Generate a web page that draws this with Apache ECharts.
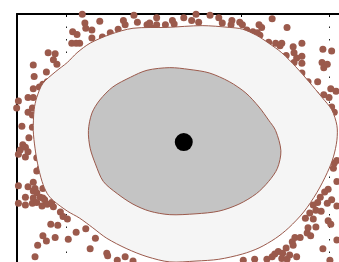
<!DOCTYPE html>
<html>
<head>
<meta charset="utf-8">
<style>
  html, body { margin: 0; padding: 0; background: #fff; }
  #chart { width: 339px; height: 262px; }
</style>
<script src="https://cdn.jsdelivr.net/npm/echarts@6.0.0/dist/echarts.min.js"></script>
</head>
<body>
<div id="chart"></div>
<script>
// sample points (x, y)
var points = [
  // top
  [-0.82, 1.46], [-0.79, 1.36], [-0.78, 1.30], [-0.71, 1.28], [-0.62, 1.38], [-0.93, 1.26],
  [-0.88, 1.23], [-0.94, 1.13], [-0.89, 1.13], [-0.85, 1.13], [-0.71, 1.19], [-0.59, 1.20],
  [-0.50, 1.25], [-0.41, 1.29], [-0.35, 1.39], [-0.33, 1.34], [-0.23, 1.45], [-0.19, 1.37],
  [-0.08, 1.34], [-0.02, 1.30], [0.03, 1.42], [0.03, 1.34], [-0.05, 1.36], [0.13, 1.34],
  [0.21, 1.39], [0.23, 1.35], [0.34, 1.42], [0.43, 1.39], [0.48, 1.46], [0.51, 1.37],
  [0.64, 1.45], [0.74, 1.42], [0.78, 1.36], [0.89, 1.39], [0.88, 1.34], [0.98, 1.37],
  [1.01, 1.34], [1.06, 1.28], [1.13, 1.26], [1.20, 1.34], [1.23, 1.31], [1.35, 1.41],
  [1.18, 1.25], [1.21, 1.22], [1.31, 1.14], [1.39, 1.13], [1.46, 1.13], [1.44, 1.10],
  [1.52, 1.31], [1.59, 1.09], [1.69, 1.13], [1.60, 1.02], [1.51, 0.99], [1.63, 0.96],
  [1.60, 0.91], [1.69, 0.90], [1.69, 0.98], [1.69, 0.79], [1.76, 0.69], [1.87, 0.69],
  [1.93, 1.06], [2.03, 1.04], [1.92, 0.91], [1.98, 0.89], [1.94, 0.85],
  // left
  [-1.21, 1.02], [-1.13, 1.01], [-1.15, 0.94], [-1.11, 0.89], [-1.38, 0.88], [-1.37, 0.75],
  [-1.23, 0.80], [-1.27, 0.66], [-1.31, 0.63], [-1.22, 0.69], [-1.38, 0.61], [-1.44, 0.51],
  [-1.38, 0.51], [-1.55, 0.47], [-1.57, 0.39], [-1.44, 0.34], [-1.39, 0.39], [-1.39, 0.31],
  [-1.51, 0.18], [-1.39, 0.17], [-1.43, 0.05], [-1.50, -0.03], [-1.53, -0.09], [-1.47, -0.06],
  [-1.55, -0.14], [-1.44, -0.11], [-1.47, -0.17], [-1.34, -0.18], [-1.34, -0.33], [-1.30, -0.30],
  [-1.55, -0.50], [-1.44, -0.51], [-1.36, -0.53], [-1.38, -0.46], [-1.38, -0.56], [-1.27, -0.53],
  [-1.47, -0.63], [-1.38, -0.64], [-1.34, -0.58], [-1.30, -0.63], [-1.55, -0.70], [-1.47, -0.72],
  [-1.39, -0.70], [-1.34, -0.69], [-1.28, -0.73], [-1.25, -0.66], [-1.22, -0.71], [-1.17, -0.69],
  [-1.15, -0.74], [-1.27, -0.64], [-1.07, -0.80], [-1.04, -0.85], [-0.99, -0.88], [-1.18, -0.94],
  [-1.10, -0.95],
  // bottom
  [-0.89, -1.03], [-0.78, -0.99], [-0.67, -1.10], [-1.27, -1.07], [-1.23, -1.13], [-1.33, -1.18],
  [-1.13, -1.09], [-0.98, -1.11], [-0.73, -1.22], [-0.54, -1.27], [-0.53, -1.30], [-0.42, -1.35],
  [-0.33, -1.31], [-0.24, -1.36], [-1.36, -1.31], [1.02, -1.35], [1.15, -1.34], [1.29, -1.34],
  [1.35, -1.31], [1.38, -1.28], [1.42, -1.25], [1.47, -1.27], [1.46, -1.33], [1.52, -1.34],
  [1.51, -1.21], [1.55, -1.29], [1.58, -1.14], [1.59, -1.18], [1.63, -1.31], [1.61, -1.09],
  [1.67, -1.09], [1.75, -1.04], [1.79, -1.07], [1.93, -1.22], [2.09, -1.12], [2.01, -1.35],
  // right
  [2.02, 0.61], [2.08, 0.58], [1.94, 0.54], [1.85, 0.54], [2.00, 0.51], [2.03, 0.40],
  [2.06, 0.34], [2.06, -0.24], [2.09, -0.21], [2.05, -0.30], [2.09, -0.45], [1.99, -0.54],
  [1.95, -0.57], [1.90, -0.63], [2.03, -0.66], [1.98, -0.70], [1.87, -0.69], [1.82, -0.72],
  [1.91, -0.79], [1.85, -0.78], [2.09, -0.73], [1.78, -0.81], [1.73, -0.87], [1.82, -0.88],
  [1.99, -0.90], [2.02, -0.94], [1.85, -0.97], [1.76, -0.98]
];

// outer contour
var outerContour = [
  [-0.24, 1.30], [0.15, 1.31], [0.55, 1.33], [0.86, 1.31], [1.01, 1.29], [1.17, 1.22],
  [1.31, 1.13], [1.46, 1.02], [1.62, 0.86], [1.77, 0.69], [1.92, 0.51], [2.03, 0.37],
  [2.09, 0.19], [2.09, 0.02], [2.05, -0.17], [1.98, -0.35], [1.86, -0.58], [1.71, -0.80],
  [1.54, -0.98], [1.39, -1.10], [1.20, -1.21], [1.01, -1.28], [0.74, -1.34], [0.48, -1.36],
  [0.18, -1.37], [-0.08, -1.31], [-0.31, -1.22], [-0.54, -1.10], [-0.70, -0.98], [-0.85, -0.87],
  [-0.99, -0.79], [-1.15, -0.67], [-1.22, -0.59], [-1.28, -0.45], [-1.33, -0.25], [-1.36, -0.07],
  [-1.38, 0.13], [-1.37, 0.37], [-1.34, 0.51], [-1.27, 0.67], [-1.13, 0.80], [-0.99, 0.91],
  [-0.88, 1.02], [-0.73, 1.13], [-0.50, 1.23]
];

// inner contour
var innerContour = [
  [0.18, 0.85], [0.40, 0.83], [0.63, 0.79], [0.86, 0.69], [1.05, 0.56], [1.20, 0.40],
  [1.31, 0.25], [1.39, 0.13], [1.45, -0.10], [1.41, -0.30], [1.31, -0.45], [1.17, -0.59],
  [0.97, -0.71], [0.74, -0.79], [0.48, -0.82], [0.18, -0.83], [-0.05, -0.79], [-0.24, -0.71],
  [-0.42, -0.59], [-0.58, -0.45], [-0.67, -0.25], [-0.73, -0.07], [-0.75, 0.13], [-0.71, 0.33],
  [-0.62, 0.48], [-0.47, 0.63], [-0.27, 0.74], [-0.08, 0.82]
];

var center = [[0.34, 0.0]];

var brown = '#9b5a4c';

// polygon drawn through the axes
function contour(data, fill, z) {
  return {
    type: 'custom',
    z: z,
    silent: true,
    clip: false,
    data: [data[0]],
    renderItem: function (params, api) {
      var pts = data.map(function (p) { return api.coord(p); });
      return {
        type: 'polygon',
        shape: { points: pts, smooth: 0.3 },
        style: { fill: fill, stroke: brown, lineWidth: 1 }
      };
    }
  };
}

var chart = echarts.init(document.getElementById('chart'));
chart.setOption({
  animation: false,
  backgroundColor: '#fff',
  grid: { left: 17, right: 0, top: 14, bottom: 0 },
  xAxis: {
    type: 'value',
    position: 'top',
    min: -1.566,
    max: 2.114,
    splitNumber: 4,
    axisLine: { show: true, onZero: false, lineStyle: { color: '#000', width: 2 } },
    axisTick: { show: true, inside: true, length: 3, lineStyle: { color: '#000' } },
    axisLabel: { show: false },
    splitLine: {
      show: true, showMinLine: false, showMaxLine: false,
      lineStyle: { color: '#222', width: 1, type: [1.5, 11] }
    }
  },
  yAxis: {
    type: 'value',
    min: -1.371,
    max: 1.463,
    axisLine: { show: true, onZero: false, lineStyle: { color: '#000', width: 2 } },
    axisTick: { show: false },
    axisLabel: { show: false },
    splitLine: { show: false }
  },
  series: [
    {
      type: 'scatter',
      z: 1,
      clip: false,
      silent: true,
      symbolSize: 7,
      itemStyle: { color: brown, opacity: 1 },
      data: points
    },
    contour(outerContour, '#f5f5f5', 2),
    contour(innerContour, '#c4c4c4', 3),
    {
      type: 'scatter',
      z: 4,
      silent: true,
      symbolSize: 18,
      itemStyle: { color: '#000', opacity: 1 },
      data: center
    }
  ]
});
</script>
</body>
</html>
